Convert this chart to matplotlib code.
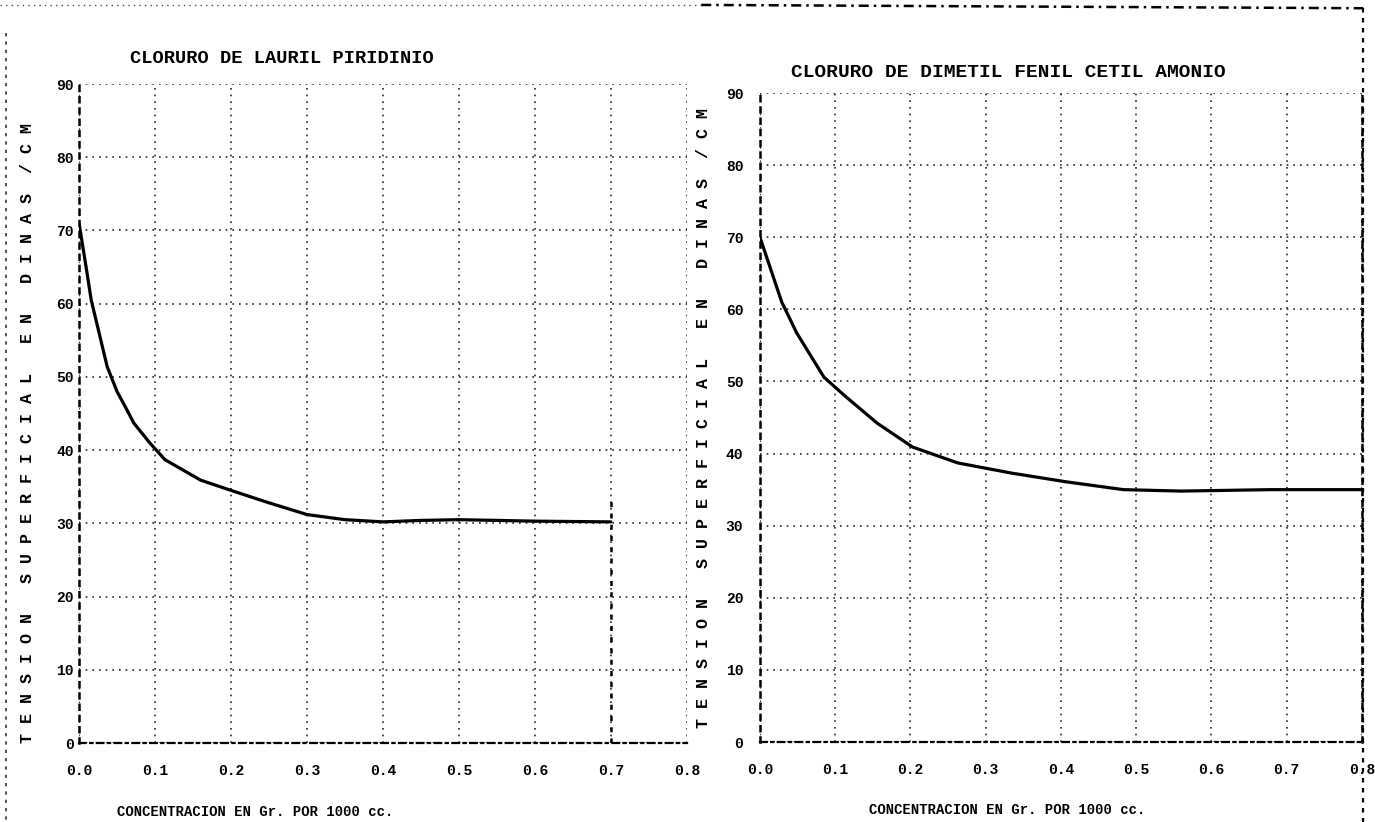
import matplotlib
matplotlib.use('Agg')
import matplotlib.pyplot as plt
from matplotlib.lines import Line2D

# data
conc_laurel = [0.0, 0.01, 0.016, 0.037, 0.05, 0.063, 0.072, 0.093, 0.113, 0.16, 0.2,
               0.25, 0.3, 0.35, 0.4, 0.45, 0.5, 0.6, 0.7]
tens_laurel = [71.0, 64.5, 60.5, 51.4, 48.0, 45.5, 43.7, 41.0, 38.7, 35.9, 34.5,
               32.8, 31.2, 30.5, 30.2, 30.4, 30.5, 30.3, 30.2]

conc_cetil = [0.0, 0.029, 0.049, 0.085, 0.114, 0.156, 0.203, 0.263, 0.334, 0.406,
              0.483, 0.56, 0.678, 0.8]
tens_cetil = [70.0, 61.0, 56.7, 50.6, 47.9, 44.2, 40.9, 38.7, 37.3, 36.1,
              35.0, 34.8, 35.0, 35.0]

xticks = [0.0, 0.1, 0.2, 0.3, 0.4, 0.5, 0.6, 0.7, 0.8]
xticklabels = ['0.0', '0.1', '0.2', '0.3', '0.4', '0.5', '0.6', '0.7', '0.8']
yticks = [0, 10, 20, 30, 40, 50, 60, 70, 80, 90]

titles = ['CLORURO DE LAURIL PIRIDINIO', 'CLORURO DE DIMETIL FENIL CETIL AMONIO']
xlab = 'CONCENTRACION EN Gr. POR 1000 cc.'
ylab = 'T E N S I O N   S U P E R F I C I A L   E N   D I N A S  / C M'

plt.rcParams['font.family'] = ['Liberation Mono', 'DejaVu Sans Mono']
plt.rcParams['font.weight'] = 'bold'

fig = plt.figure(figsize=(13.75, 8.22), dpi=100)
ax1 = fig.add_axes([0.0575, 0.0961, 0.442, 0.8017])
ax2 = fig.add_axes([0.5527, 0.0973, 0.4378, 0.7895])

dot = (0, (1, 3))
for ax, cx, cy, ttl, tpos, lpos, ypad in [
        (ax1, conc_laurel, tens_laurel, titles[0], (0.334, 1.039, 13.5), 0.29, 4),
        (ax2, conc_cetil, tens_cetil, titles[1], (0.412, 1.031, 14), 0.41, 12)]:
    ax.plot(cx, cy, color='black', lw=2.3, solid_capstyle='round')
    ax.set_xlim(0, 0.8)
    ax.set_ylim(0, 90)
    ax.set_xticks(xticks)
    ax.set_xticklabels(xticklabels)
    ax.set_yticks(yticks)
    ax.tick_params(length=0, labelsize=10.5, pad=ypad)
    ax.tick_params(axis='x', pad=15)
    ax.grid(True, color='0.15', linestyle=dot, linewidth=1.2)
    ax.spines['top'].set_visible(False)
    ax.spines['right'].set_visible(False)
    ax.spines['left'].set_linestyle((0, (2, 2.5)))
    ax.spines['left'].set_linewidth(1.8)
    ax.spines['bottom'].set_linestyle((0, (3, 2, 1, 2)))
    ax.spines['bottom'].set_linewidth(1.6)
    ax.text(tpos[0], tpos[1], ttl, transform=ax.transAxes, ha='center', va='center',
            fontsize=tpos[2], fontweight='bold')
    ax.set_xlabel(xlab, fontsize=10, fontweight='bold')
    ax.xaxis.set_label_coords(lpos, -0.094)
    ax.set_ylabel(ylab, fontsize=12, fontweight='bold')

ax1.yaxis.set_label_coords(-0.072, 0.47)
ax2.yaxis.set_label_coords(-0.082, 0.5)

# heavy stroke at 0.7 on the first plate, frame on the second
ax1.axvline(0.7, ymax=33 / 90, color='black', lw=1.8, linestyle=(0, (2, 2.5)))
ax2.spines['right'].set_visible(True)
ax2.spines['right'].set_linestyle((0, (2, 2.5)))
ax2.spines['right'].set_linewidth(1.8)

# page border of the scanned sheet
fig.add_artist(Line2D([0.0, 0.51], [0.994, 0.994], color='0.3', lw=1.0, linestyle=dot))
fig.add_artist(Line2D([0.51, 0.9915], [0.994, 0.99], color='black', lw=1.8,
                      linestyle=(0, (4, 2, 1, 2))))
fig.add_artist(Line2D([0.9915, 0.9915], [0.99, 0.0], color='black', lw=1.6,
                      linestyle=(0, (2, 2.5))))
fig.add_artist(Line2D([0.004, 0.004], [0.96, 0.0], color='0.2', lw=1.2,
                      linestyle=(0, (2, 3))))

fig.savefig('out.png', dpi=100)
